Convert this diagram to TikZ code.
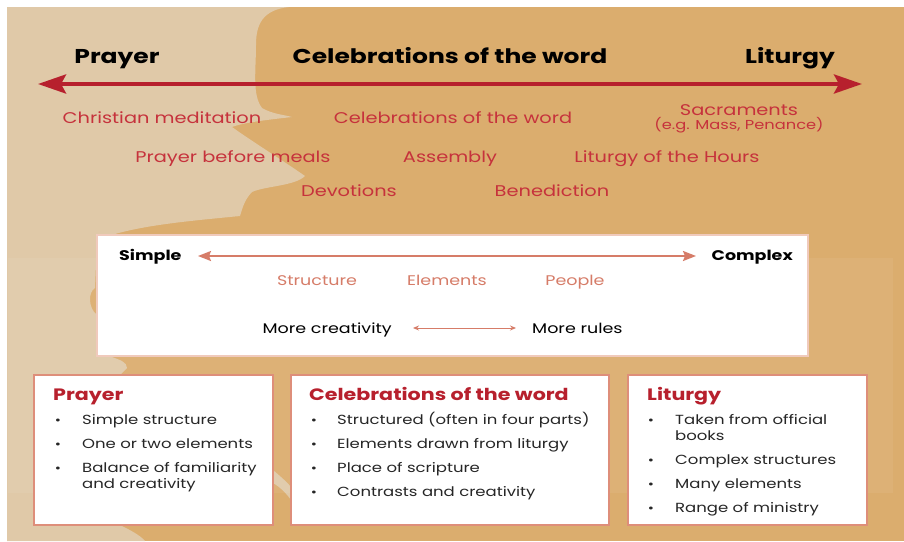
\documentclass[tikz,border=0pt]{standalone}
\usepackage{fontspec}
\setmainfont{Poppins}[FakeStretch=1.25]
\usetikzlibrary{arrows.meta}
\definecolor{sand}{RGB}{224,201,168}
\definecolor{ochre}{RGB}{219,173,110}
\definecolor{scaleRed}{RGB}{183,32,45}
\definecolor{typeRed}{RGB}{198,50,60}
\definecolor{salmon}{RGB}{214,124,104}
\definecolor{paleEdge}{RGB}{240,202,188}
\definecolor{boxEdge}{RGB}{222,142,122}

\tikzset{
  heading/.style={font=\fontsize{20}{24}\selectfont\bfseries, anchor=base, inner sep=0pt},
  kind/.style={text=typeRed, font=\fontsize{15.5}{18}\selectfont, anchor=base, inner sep=0pt},
  axislabel/.style={font=\fontsize{14}{17}\selectfont\bfseries, anchor=base, inner sep=0pt},
  factor/.style={text=salmon, font=\fontsize{14}{17}\selectfont, anchor=base, inner sep=0pt},
  plain/.style={font=\fontsize{14}{17}\selectfont, anchor=base, inner sep=0pt},
  panel/.style={draw=boxEdge, line width=1.6pt, fill=white},
  panelhead/.style={text=scaleRed, font=\fontsize{16.5}{20}\selectfont\bfseries, anchor=base west, inner sep=0pt},
  point/.style={text=black!85, font=\fontsize{13.2}{16}\selectfont, anchor=base west, inner sep=0pt},
  dot/.style={text=black!85, font=\fontsize{12}{16}\selectfont, anchor=base, inner sep=0pt}
}

\begin{document}
\begin{tikzpicture}[x=1pt, y=-1pt]
  \useasboundingbox (0,0) rectangle (904,541);

  % background
  \fill[white] (0,0) rectangle (904,541);
  \fill[ochre] (7,7) rectangle (904,541);
  \fill[sand] (7,7) -- (289,7) .. controls (262,10) and (256,25) .. (256,45)
     .. controls (256,70) and (252,95) .. (262,108)
     .. controls (272,114) and (285,115) .. (292,117)
     .. controls (275,119) and (245,122) .. (232,127)
     .. controls (250,140) and (285,162) .. (305,176)
     .. controls (295,186) and (265,186) .. (252,192)
     .. controls (244,200) and (242,210) .. (240,216)
     .. controls (200,220) and (150,224) .. (115,234)
     -- (97,240) -- (95,288) .. controls (88,292) and (88,308) .. (97,315)
     -- (97,357) -- (112,357) .. controls (120,360) and (127,362) .. (127,368)
     -- (120,375) -- (120,525)
     .. controls (130,530) and (140,535) .. (145,541) -- (7,541) -- cycle;
  \fill[sand] (273,470) .. controls (281,477) and (287,482) .. (291,487)
     -- (291,500) .. controls (286,493) and (280,487) .. (273,483) -- cycle;
  \fill[white, opacity=0.06] (8,258) rectangle (893,493);

  % top scale
  \node[heading] (prayer) at (117,63) {Prayer};
  \node[heading] (cotw) at (450,63) {Celebrations of the word};
  \node[heading] (liturgy) at (790,63) {Liturgy};
  \coordinate (leftend) at (38,84);
  \coordinate (rightend) at (862,84);
  \draw[scaleRed, line width=4pt, {Stealth[length=28pt, width=19pt, inset=5pt]}-{Stealth[length=28pt, width=19pt, inset=5pt]}] (leftend) -- (rightend);

  \node[kind] (meditation) at (162,123) {Christian meditation};
  \node[kind] (celeb) at (453,123) {Celebrations of the word};
  \node[kind] (sacraments) at (739,115) {Sacraments};
  \node[kind, font=\fontsize{13}{16}\selectfont] (eg) at (739,129) {(e.g. Mass, Penance)};
  \node[kind] (meals) at (233,162) {Prayer before meals};
  \node[kind] (assembly) at (450,162) {Assembly};
  \node[kind] (hours) at (667,162) {Liturgy of the Hours};
  \node[kind] (devotions) at (349,196) {Devotions};
  \node[kind] (benediction) at (552,196) {Benediction};

  % simple / complex panel
  \draw[draw=paleEdge, line width=1.6pt, fill=white] (97,235) rectangle (808,356);
  \node[axislabel, anchor=base west] (simple) at (119,260) {Simple};
  \node[axislabel, anchor=base east] (complex) at (793,260) {Complex};
  \coordinate (sa) at (198,256);
  \coordinate (sb) at (696,256);
  \draw[salmon, line width=1.8pt, {Stealth[length=13pt, width=10pt, inset=2pt]}-{Stealth[length=13pt, width=10pt, inset=2pt]}] (sa) -- (sb);
  \node[factor] (structure) at (317,285) {Structure};
  \node[factor] (elements) at (447,285) {Elements};
  \node[factor] (people) at (575,285) {People};
  \node[plain, anchor=base east] (creative) at (392,333) {More creativity};
  \node[plain, anchor=base west] (rules) at (532,333) {More rules};
  \coordinate (ca) at (413,328);
  \coordinate (cb) at (516,328);
  \draw[salmon, line width=0.9pt, {Stealth[length=6pt, width=5pt]}-{Stealth[length=6pt, width=5pt]}] (ca) -- (cb);

  % prayer panel
  \draw[panel] (34,375) rectangle (273,525);
  \node[panelhead] (ph) at (53,400) {Prayer};
  \node[dot] at (58,424) {•};
  \node[point] (p1) at (82,424) {Simple structure};
  \node[dot] at (58,448) {•};
  \node[point] (p2) at (82,448) {One or two elements};
  \node[dot] at (58,472) {•};
  \node[point] (p3) at (82,472) {Balance of familiarity};
  \node[point] (p3b) at (82,488) {and creativity};

  % celebrations panel
  \draw[panel] (291,375) rectangle (609,525);
  \node[panelhead] (ch) at (309,400) {Celebrations of the word};
  \node[dot] at (314,424) {•};
  \node[point] (c1) at (337,424) {Structured (often in four parts)};
  \node[dot] at (314,448) {•};
  \node[point] (c2) at (337,448) {Elements drawn from liturgy};
  \node[dot] at (314,472) {•};
  \node[point] (c3) at (337,472) {Place of scripture};
  \node[dot] at (314,496) {•};
  \node[point] (c4) at (337,496) {Contrasts and creativity};

  % liturgy panel
  \draw[panel] (628,375) rectangle (867,525);
  \node[panelhead] (lh) at (647,400) {Liturgy};
  \node[dot] at (651,424) {•};
  \node[point] (l1) at (675,424) {Taken from official};
  \node[point] (l1b) at (675,440) {books};
  \node[dot] at (651,464) {•};
  \node[point] (l2) at (675,464) {Complex structures};
  \node[dot] at (651,488) {•};
  \node[point] (l3) at (675,488) {Many elements};
  \node[dot] at (651,512) {•};
  \node[point] (l4) at (675,512) {Range of ministry};
\end{tikzpicture}
\end{document}
